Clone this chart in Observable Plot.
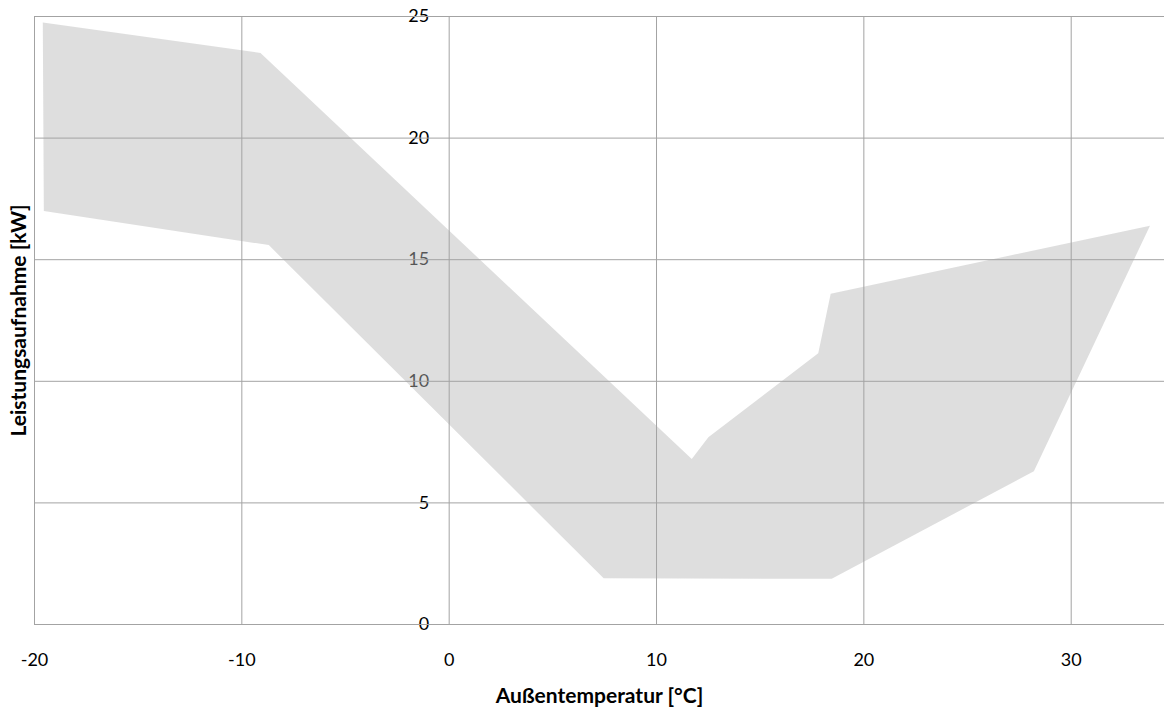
<!DOCTYPE html>
<html>
<head>
<meta charset="utf-8">
<script src="https://cdn.jsdelivr.net/npm/d3@7"></script>
<script src="https://cdn.jsdelivr.net/npm/@observablehq/plot@0.6"></script>
<style>
  html, body { margin: 0; padding: 0; background: #fff; }
</style>
</head>
<body>
<div id="chart"></div>
<script>
// Upper boundary of the operating envelope (left to right)
const upperX = [-19.6, -9.1, 11.7, 12.5, 17.8, 18.4, 33.8];
const upperY = [24.75, 23.5, 6.8, 7.7, 11.15, 13.6, 16.4];
// Lower boundary (right to left)
const lowerX = [28.2, 18.45, 7.45, -8.7, -19.55];
const lowerY = [6.3, 1.88, 1.9, 15.6, 17.0];

const xTicks = [-20, -10, 0, 10, 20, 30];
const yTicks = [0, 5, 10, 15, 20, 25];
const xTitle = "Außentemperatur [°C]";
const yTitle = "Leistungsaufnahme [kW]";

const polygon = [
  ...upperX.map((x, i) => ({x, y: upperY[i]})),
  ...lowerX.map((x, i) => ({x, y: lowerY[i]}))
];

const gridColor = "#a3a3a3";
const font = "Lato, 'Open Sans', sans-serif";

const chart = Plot.plot({
  width: 1164,
  height: 711,
  marginLeft: 34,
  marginRight: 0,
  marginTop: 16,
  marginBottom: 87,
  style: {fontFamily: font, fontSize: "18px", color: "#000", background: "#fff"},
  x: {domain: [-20, 34.5]},
  y: {domain: [0, 25]},
  marks: [
    // y tick labels drawn at x = 0 (under the area, as in the reference)
    Plot.text(yTicks, {x: 0, y: d => d, text: d => String(d), textAnchor: "end", dx: -20, fontSize: 18, fill: "#000"}),
    Plot.line(polygon, {x: "x", y: "y", fill: "rgb(184,184,184)", fillOpacity: 0.465, stroke: "none", curve: "linear-closed"}),
    Plot.gridX(xTicks, {stroke: gridColor, strokeOpacity: 1, strokeWidth: 1}),
    Plot.gridY(yTicks, {stroke: gridColor, strokeOpacity: 1, strokeWidth: 1}),
    Plot.axisX(xTicks, {tickSize: 0, tickPadding: 29, fontSize: 18, label: null, fill: "#000", tickFormat: d => String(d)}),
    Plot.axisY([], {label: null, tickSize: 0}),
    Plot.text([xTitle], {frameAnchor: "bottom", dy: 78, fontWeight: "bold", fontSize: 21, fill: "#000"}),
    Plot.text([yTitle], {frameAnchor: "left", textAnchor: "middle", dx: -15, rotate: -90, fontWeight: "bold", fontSize: 21, fill: "#000"})
  ]
});

document.getElementById("chart").appendChild(chart);
</script>
</body>
</html>
